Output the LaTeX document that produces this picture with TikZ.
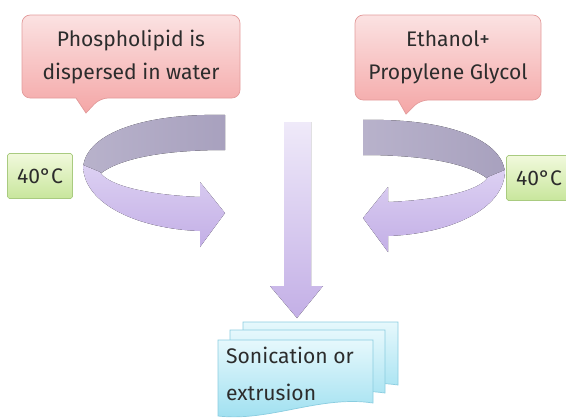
\documentclass[tikz,border=0pt]{standalone}
\usepackage{fontspec}
\setmainfont{Fira Sans}
\usepackage{xcolor}
\definecolor{txtgray}{HTML}{2C2C2C}
\definecolor{pinktop}{HTML}{FBE2E2}
\definecolor{pinkbot}{HTML}{F4A6A6}
\definecolor{pinkline}{HTML}{E39C9C}
\definecolor{greentop}{HTML}{F1F9DC}
\definecolor{greenbot}{HTML}{C8E69C}
\definecolor{greenline}{HTML}{A9CB80}
\definecolor{cyantop}{HTML}{E6F8FC}
\definecolor{cyanbot}{HTML}{9CDFF0}
\definecolor{cyanline}{HTML}{8ACDE0}
\definecolor{lavtop}{HTML}{DCD0F2}
\definecolor{lavbot}{HTML}{C3AFE6}
\definecolor{backleft}{HTML}{B8B2CB}
\definecolor{backright}{HTML}{A8A1BE}

% one curved arrow, drawn for the left side
\def\curvedarrow{
  \fill[backband] (225,115) .. controls (140,113) and (83,135) .. (83,170) -- (100,174) .. controls (120,158) and (165,150) .. (225,150) -- cycle;
  \fill[frontband] (83,165) .. controls (83,205) and (140,229) .. (200,231) -- (200,247) -- (225,213) -- (200,182) -- (200,197) .. controls (150,195) and (108,186) .. (100,172) -- cycle;
}

\begin{document}
\begin{tikzpicture}[x=0.03cm,y=-0.03cm,
  lbl/.style={align=center,text=txtgray,font=\fontsize{18}{28}\selectfont},
  bubble/.style={draw=pinkline,line width=0.6pt,top color=pinktop,bottom color=pinkbot},
  tempbox/.style={draw=greenline,line width=0.6pt,rounded corners=1.5pt,top color=greentop,bottom color=greenbot,
    minimum width=1.95cm,minimum height=1.35cm,text=txtgray,font=\fontsize{18}{20}\selectfont},
  sheet/.style={draw=cyanline,line width=0.6pt,top color=cyantop,bottom color=cyanbot},
  backband/.style={left color=backleft,right color=backright},
  frontband/.style={top color=lavtop,bottom color=lavbot},
  shaft/.style={top color=lavtop!45!white,bottom color=lavbot}]

\useasboundingbox (0,0) rectangle (566,418);
\clip (0,0) rectangle (566,418);

\draw[bubble] (76,98) [rounded corners=7pt] -- (22,98) -- (22,15) -- (240,15) -- (240,98) -- (100,98) [sharp corners] -- (86,113) -- cycle;
\node[lbl] (phos) at (131,57) {Phospholipid is\\dispersed in water};

\draw[bubble] (398,100) [rounded corners=7pt] -- (355,100) -- (355,15) -- (541,15) -- (541,100) -- (420,100) [sharp corners] -- (406,114) -- cycle;
\node[lbl] (ethanol) at (448,57) {Ethanol+\\Propylene Glycol};

\curvedarrow
\begin{scope}[shift={(588,5)},xscale=-1]
  \curvedarrow
\end{scope}

\fill[shaft] (284,122) -- (311,122) -- (311,286) -- (323,286) -- (297,318) -- (270,286) -- (284,286) -- cycle;

\node[tempbox] (tleft) at (40,176) {40°C};
\node[tempbox] (tright) at (539,178) {40°C};

\foreach \dx/\dy in {25/-18,12/-10,0/0}{
  \draw[sheet,shift={(\dx,\dy)}] (218,340) -- (373,340) -- (373,403) .. controls (320,395) and (270,422) .. (218,416) -- cycle;
}
\node[lbl,align=left,anchor=west,font=\fontsize{18}{32}\selectfont] (sonic) at (222,374) {Sonication or\\extrusion};

\end{tikzpicture}
\end{document}
